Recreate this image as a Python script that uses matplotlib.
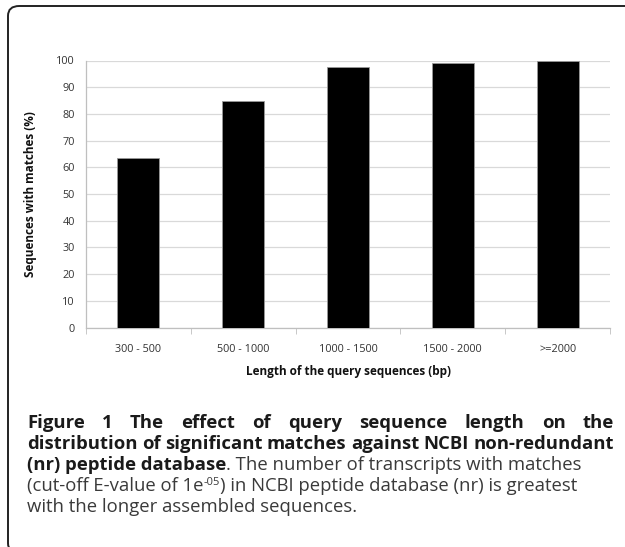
import matplotlib
matplotlib.use("Agg")
import matplotlib.pyplot as plt
from matplotlib.patches import FancyBboxPatch

plt.rcParams['font.family'] = ['Open Sans', 'DejaVu Sans']

categories = ['300 - 500', '500 - 1000', '1000 - 1500', '1500 - 2000', '>=2000']
matches_pct = [63.4, 84.9, 97.4, 98.9, 99.7]
yticks = [0, 10, 20, 30, 40, 50, 60, 70, 80, 90, 100]

W, H = 625, 547
fig = plt.figure(figsize=(W / 100, H / 100), dpi=100)

# rounded frame around the whole figure panel (right side runs off the page)
frame = FancyBboxPatch((8 / W, -6 / H), 700 / W, (541 + 6) / H,
                       boxstyle="round,pad=0,rounding_size=0.018",
                       transform=fig.transFigure, fill=False,
                       edgecolor='#222222', linewidth=1.4)
fig.patches.append(frame)

ax = fig.add_axes([86 / W, 1 - 327.5 / H, (610 - 86) / W, (327.5 - 60.5) / H])
x = range(len(categories))
ax.bar(x, matches_pct, width=0.4, color='black', edgecolor='#999999',
       linewidth=0.6, zorder=3)
ax.set_xlim(-0.5, len(categories) - 0.5)
ax.set_ylim(0, 100)
ax.set_yticks(yticks)
ax.yaxis.grid(True, color='#d9d9d9', linewidth=0.9, zorder=0)
ax.set_xticks(list(x))
ax.set_xticklabels(categories, fontsize=7.8, color='#333333')
ax.set_xticks([i - 0.5 for i in range(len(categories) + 1)], minor=True)
ax.tick_params(axis='x', which='major', length=0, pad=12)
ax.tick_params(axis='x', which='minor', length=4, color='#bfbfbf', direction='out')
ax.tick_params(axis='y', length=0, pad=8, labelsize=7.8, labelcolor='#333333')
for s in ['top', 'right']:
    ax.spines[s].set_visible(False)
for s in ['left', 'bottom']:
    ax.spines[s].set_color('#bfbfbf')
    ax.spines[s].set_linewidth(0.9)
ax.set_ylabel('Sequences with matches (%)', fontsize=8.5, fontweight='bold',
              color='#111111')
ax.yaxis.set_label_coords((37 - 86) / (610 - 86), 0.5)
ax.set_xlabel('Length of the query sequences (bp)', fontsize=8.5,
              fontweight='bold', color='#111111')
ax.xaxis.set_label_coords(0.5, -(365 - 327.5) / (327.5 - 60.5))

# caption, set word by word so the first lines can be justified
renderer = fig.canvas.get_renderer()
cap_size = 13.3
left_px, right_px = 27, 614


def put(text, xpx, ypx, weight, size):
    color = '#1a1a1a' if weight == 'bold' else '#3a3a3a'
    t = fig.text(xpx / W, 1 - ypx / H, text, fontsize=size, fontweight=weight,
                 color=color, ha='left', va='baseline')
    return t.get_window_extent(renderer).width


def measure(text, weight, size):
    t = fig.text(0, 0, text, fontsize=size, fontweight=weight)
    w = t.get_window_extent(renderer).width
    t.remove()
    return w


def justified(text, ypx, weight):
    words = text.split(' ')
    widths = [measure(w, weight, cap_size) for w in words]
    gap = (right_px - left_px - sum(widths)) / (len(words) - 1)
    xpx = left_px
    for w, wd in zip(words, widths):
        put(w, xpx, ypx, weight, cap_size)
        xpx += wd + gap


def runs(parts, ypx):
    xpx = left_px
    for text, weight, scale, dy in parts:
        xpx += put(text, xpx, ypx - dy, weight, cap_size * scale)


justified('Figure 1 The effect of query sequence length on the', 428, 'bold')
justified('distribution of significant matches against NCBI non-redundant', 449, 'bold')
runs([('(nr) peptide database', 'bold', 1, 0),
      ('. The number of transcripts with matches', 'normal', 1, 0)], 470)
runs([('(cut-off E-value of 1e', 'normal', 1, 0),
      ('-05', 'normal', 0.6, 6),
      (') in NCBI peptide database (nr) is greatest', 'normal', 1, 0)], 491)
runs([('with the longer assembled sequences.', 'normal', 1, 0)], 512)

fig.savefig('out.png', dpi=100)
